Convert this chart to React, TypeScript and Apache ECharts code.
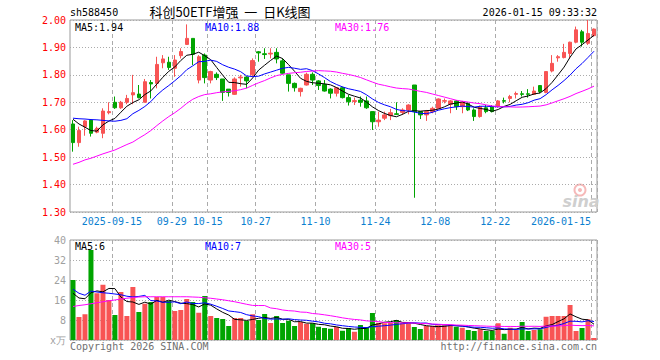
import React, { useEffect, useRef } from "react";
import * as echarts from "echarts";

const dates = [
  "2025-09-04", "2025-09-05", "2025-09-08", "2025-09-09", "2025-09-10", "2025-09-11", "2025-09-12",
  "2025-09-15", "2025-09-16", "2025-09-17", "2025-09-18", "2025-09-19",
  "2025-09-22", "2025-09-23", "2025-09-24", "2025-09-25", "2025-09-26",
  "2025-09-29", "2025-09-30", "2025-10-09", "2025-10-10",
  "2025-10-13", "2025-10-14", "2025-10-15", "2025-10-16", "2025-10-17",
  "2025-10-20", "2025-10-21", "2025-10-22", "2025-10-23", "2025-10-24",
  "2025-10-27", "2025-10-28", "2025-10-29", "2025-10-30", "2025-10-31",
  "2025-11-03", "2025-11-04", "2025-11-05", "2025-11-06", "2025-11-07",
  "2025-11-10", "2025-11-11", "2025-11-12", "2025-11-13", "2025-11-14",
  "2025-11-17", "2025-11-18", "2025-11-19", "2025-11-20", "2025-11-21",
  "2025-11-24", "2025-11-25", "2025-11-26", "2025-11-27", "2025-11-28",
  "2025-12-01", "2025-12-02", "2025-12-03", "2025-12-04", "2025-12-05",
  "2025-12-08", "2025-12-09", "2025-12-10", "2025-12-11", "2025-12-12",
  "2025-12-15", "2025-12-16", "2025-12-17", "2025-12-18", "2025-12-19",
  "2025-12-22", "2025-12-23", "2025-12-24", "2025-12-25", "2025-12-26",
  "2025-12-29", "2025-12-30", "2025-12-31",
  "2026-01-05", "2026-01-06", "2026-01-07", "2026-01-08", "2026-01-09",
  "2026-01-12", "2026-01-13", "2026-01-14", "2026-01-15",
];

const opens = [
  1.621, 1.553, 1.611, 1.635, 1.591, 1.587, 1.662, 1.700, 1.680, 1.700,
  1.727, 1.730, 1.700, 1.772, 1.769, 1.844, 1.846, 1.824, 1.870, 1.911,
  1.933, 1.781, 1.872, 1.781, 1.802, 1.785, 1.748, 1.729, 1.789, 1.792,
  1.800, 1.884, 1.877, 1.876, 1.882, 1.851, 1.800, 1.769, 1.739, 1.763,
  1.802, 1.778, 1.765, 1.748, 1.733, 1.753, 1.717, 1.703, 1.708, 1.705,
  1.666, 1.629, 1.642, 1.651, 1.658, 1.663, 1.672, 1.763, 1.666, 1.654,
  1.666, 1.678, 1.704, 1.693, 1.705, 1.684, 1.696, 1.672, 1.648, 1.680,
  1.684, 1.684, 1.706, 1.714, 1.729, 1.731, 1.731, 1.729, 1.761, 1.736,
  1.814, 1.862, 1.863, 1.878, 1.919, 1.957, 1.915, 1.943,
];
const closes = [
  1.553, 1.597, 1.632, 1.587, 1.605, 1.668, 1.666, 1.680, 1.700, 1.714,
  1.735, 1.717, 1.775, 1.767, 1.838, 1.858, 1.827, 1.854, 1.885, 1.933,
  1.875, 1.866, 1.790, 1.812, 1.790, 1.736, 1.736, 1.785, 1.792, 1.778,
  1.852, 1.880, 1.874, 1.879, 1.858, 1.806, 1.769, 1.753, 1.751, 1.802,
  1.781, 1.761, 1.741, 1.733, 1.753, 1.717, 1.702, 1.706, 1.700, 1.680,
  1.629, 1.635, 1.654, 1.662, 1.656, 1.672, 1.690, 1.666, 1.654, 1.666,
  1.678, 1.712, 1.706, 1.705, 1.684, 1.700, 1.672, 1.648, 1.684, 1.666,
  1.666, 1.705, 1.704, 1.721, 1.732, 1.729, 1.729, 1.741, 1.739, 1.812,
  1.842, 1.866, 1.882, 1.919, 1.964, 1.919, 1.951, 1.967,
];
const lows = [
  1.520, 1.538, 1.578, 1.575, 1.587, 1.569, 1.656, 1.676, 1.676, 1.693,
  1.693, 1.714, 1.700, 1.714, 1.751, 1.824, 1.818, 1.793, 1.860, 1.909,
  1.836, 1.769, 1.769, 1.769, 1.781, 1.705, 1.721, 1.727, 1.757, 1.751,
  1.793, 1.848, 1.858, 1.860, 1.842, 1.802, 1.739, 1.739, 1.721, 1.761,
  1.763, 1.745, 1.739, 1.714, 1.721, 1.714, 1.688, 1.690, 1.684, 1.676,
  1.599, 1.611, 1.635, 1.635, 1.654, 1.654, 1.656, 1.352, 1.639, 1.632,
  1.660, 1.676, 1.696, 1.660, 1.672, 1.660, 1.668, 1.632, 1.644, 1.660,
  1.663, 1.680, 1.696, 1.700, 1.714, 1.721, 1.717, 1.727, 1.733, 1.733,
  1.809, 1.848, 1.860, 1.860, 1.915, 1.903, 1.909, 1.940,
];
const highs = [
  1.635, 1.611, 1.635, 1.638, 1.611, 1.678, 1.700, 1.721, 1.705, 1.727,
  1.800, 1.763, 1.785, 1.781, 1.866, 1.872, 1.866, 1.872, 1.897, 1.984,
  1.933, 1.872, 1.878, 1.815, 1.809, 1.785, 1.748, 1.791, 1.800, 1.795,
  1.860, 1.887, 1.897, 1.897, 1.897, 1.860, 1.800, 1.772, 1.753, 1.808,
  1.809, 1.781, 1.781, 1.751, 1.755, 1.757, 1.727, 1.717, 1.721, 1.721,
  1.666, 1.666, 1.666, 1.676, 1.700, 1.678, 1.693, 1.763, 1.668, 1.672,
  1.684, 1.714, 1.714, 1.708, 1.708, 1.705, 1.700, 1.678, 1.688, 1.690,
  1.690, 1.708, 1.717, 1.727, 1.739, 1.741, 1.748, 1.757, 1.763, 1.812,
  1.872, 1.872, 1.913, 1.921, 1.976, 1.964, 2.000, 1.969,
];

const volumes = [
  24.0, 9.2, 10.3, 36.0, 18.7, 22.1, 16.0, 10.0, 19.2, 9.6,
  21.2, 11.2, 14.5, 15.2, 17.2, 17.2, 15.6, 11.6, 12.0, 16.4,
  15.2, 10.9, 17.6, 9.6, 8.8, 8.4, 5.6, 8.8, 8.8, 7.6,
  10.3, 8.0, 10.4, 6.8, 9.6, 6.8, 7.7, 5.6, 7.2, 6.5,
  6.7, 5.3, 4.8, 4.5, 5.2, 3.7, 4.8, 3.3, 6.0, 5.2,
  10.8, 6.9, 6.7, 6.9, 8.0, 6.7, 6.7, 5.2, 4.4, 5.6,
  5.6, 5.9, 5.9, 5.9, 5.3, 4.9, 4.0, 3.6, 4.3, 3.6,
  3.7, 6.7, 2.5, 4.9, 4.0, 7.2, 3.6, 4.0, 4.3, 9.3,
  9.6, 9.6, 9.6, 14.0, 3.6, 4.8, 8.3, 0.8,
];

// Moving-average values at the start of the view (their windows begin before the first visible day)
const ma5Head = [1.638, 1.621, 1.609, 1.597];
const ma10Head = [1.642, 1.640, 1.639, 1.637, 1.636, 1.634, 1.632, 1.631, 1.634];
const ma30Head = [
  1.474, 1.481, 1.490, 1.496, 1.504, 1.512, 1.519, 1.526, 1.536, 1.546,
  1.555, 1.569, 1.582, 1.597, 1.615, 1.632, 1.648, 1.662, 1.678, 1.696,
  1.711, 1.721, 1.728, 1.731, 1.735, 1.738, 1.740, 1.742, 1.746,
];
const volMa5Head = [18.7, 16.8, 16.5, 18.9];
const volMa10Head = [20.3, 18.7, 17.9, 19.6, 19.2, 18.9, 18.7, 18.4, 18.1];
const volMa30Head = [
  13.4, 13.8, 14.1, 14.5, 14.9, 15.3, 15.7, 16.0, 16.4, 16.7,
  17.0, 17.2, 17.3, 17.3, 17.3, 17.3, 17.3, 17.3, 17.3, 17.3,
  17.2, 17.1, 16.9, 16.7, 16.4, 16.1, 15.7, 15.3, 14.8,
];

const tickDates = [
  "2025-09-15", "2025-09-29", "2025-10-15", "2025-10-27", "2025-11-10",
  "2025-11-24", "2025-12-08", "2025-12-22", "2026-01-15",
];
const tickLabels = [
  "2025-09-15", "09-29", "10-15", "10-27", "11-10",
  "11-24", "12-08", "12-22", "2026-01-15",
];

const priceTicks = { min: 1.3, max: 2.0, interval: 0.1 };
const volTicks = { min: 0, max: 40, interval: 8 };

const priceMaLabels = ["MA5:1.94", "MA10:1.88", "MA30:1.76"];
const volMaLabels = ["MA5:6", "MA10:7", "MA30:5"];

const symbolCode = "sh588450";
const titleText = "科创50ETF增强  一  日K线图";
const timestamp = "2026-01-15 09:33:32";

const RED = "#f85454";
const GREEN = "#00a400";
const MONO = '"DejaVu Sans Mono", "Liberation Mono", monospace';
const GRID_COLOR = "#ababab";

function movingAverage(values: number[], win: number, head: number[]): number[] {
  return values.map((_, i) => {
    if (i < win - 1) return head[i];
    let s = 0;
    for (let k = i - win + 1; k <= i; k++) s += values[k];
    return +(s / win).toFixed(4);
  });
}

export default function App() {
  const ref = useRef<HTMLDivElement>(null);

  useEffect(() => {
    if (!ref.current) return;
    const chart = echarts.init(ref.current, null, { renderer: "svg" });

    const tickIndex = new Set(tickDates.map((d) => dates.indexOf(d)));
    const labelByDate: Record<string, string> = {};
    tickDates.forEach((d, i) => (labelByDate[d] = tickLabels[i]));
    const lastDate = dates[dates.length - 1];

    const candleData = dates.map((_, i) => [opens[i], closes[i], lows[i], highs[i]]);
    const volData = volumes.map((v, i) => ({
      value: v,
      itemStyle: { color: closes[i] >= opens[i] ? RED : GREEN },
    }));

    const ma5 = movingAverage(closes, 5, ma5Head);
    const ma10 = movingAverage(closes, 10, ma10Head);
    const ma30 = movingAverage(closes, 30, ma30Head);
    const vma5 = movingAverage(volumes, 5, volMa5Head);
    const vma10 = movingAverage(volumes, 10, volMa10Head);
    const vma30 = movingAverage(volumes, 30, volMa30Head);

    const lineS = (data: number[], color: string, xi: number) => ({
      type: "line",
      xAxisIndex: xi,
      yAxisIndex: xi,
      data,
      symbol: "none",
      silent: true,
      lineStyle: { color, width: 1 },
      z: 3,
    });

    const vSplit = {
      show: true,
      interval: (index: number) => tickIndex.has(index),
      lineStyle: { color: GRID_COLOR, width: 1, type: [4, 3] },
    };
    const hSplit = {
      show: true,
      lineStyle: { color: GRID_COLOR, width: 1, type: [1, 2] },
    };

    const textEl = (text: string, x: number, y: number, fill: string, align = "left", font = `10px ${MONO}`) => ({
      type: "text",
      x,
      y,
      silent: true,
      z: 10,
      style: { text, fill, font, align, verticalAlign: "middle" },
    });

    chart.setOption({
      animation: false,
      backgroundColor: "#ffffff",
      grid: [
        { left: 70, top: 20, width: 527, height: 192, show: true, borderColor: "#9a9a9a", borderWidth: 1, backgroundColor: "transparent" },
        { left: 70, top: 240, width: 527, height: 100, show: true, borderColor: "#9a9a9a", borderWidth: 1, backgroundColor: "transparent" },
      ],
      xAxis: [
        {
          type: "category",
          gridIndex: 0,
          data: dates,
          boundaryGap: true,
          axisLine: { show: false },
          axisTick: { show: false },
          splitLine: vSplit,
          axisLabel: {
            show: true,
            interval: (index: number) => tickIndex.has(index),
            margin: 4,
            formatter: (value: string) => {
              const t = labelByDate[value] ?? "";
              if (!t) return "";
              return value === lastDate ? `{e|${t}}` : `{n|${t}}`;
            },
            rich: {
              n: { color: "#0b7fd0", fontSize: 10, fontFamily: MONO, padding: [0, 6, 0, 0] },
              e: { color: "#0b7fd0", fontSize: 10, fontFamily: MONO, padding: [0, 66, 0, 0] },
            },
          },
        },
        {
          type: "category",
          gridIndex: 1,
          data: dates,
          boundaryGap: true,
          axisLine: { show: false },
          axisTick: { show: false },
          axisLabel: { show: false },
          splitLine: vSplit,
        },
      ],
      yAxis: [
        {
          type: "value",
          gridIndex: 0,
          min: priceTicks.min,
          max: priceTicks.max,
          interval: priceTicks.interval,
          axisLine: { show: false },
          axisTick: { show: false },
          splitLine: hSplit,
          axisLabel: {
            margin: 4,
            color: "#ff0000",
            fontSize: 10,
            fontFamily: MONO,
            formatter: (v: number) => v.toFixed(2),
          },
        },
        {
          type: "value",
          gridIndex: 1,
          min: volTicks.min,
          max: volTicks.max,
          interval: volTicks.interval,
          axisLine: { show: false },
          axisTick: { show: false },
          splitLine: hSplit,
          axisLabel: {
            margin: 4,
            color: "#a0a0a0",
            fontSize: 10,
            fontFamily: MONO,
            formatter: (v: number) => (v === 0 ? "x万" : String(v)),
          },
        },
      ],
      series: [
        {
          type: "candlestick",
          xAxisIndex: 0,
          yAxisIndex: 0,
          data: candleData,
          barWidth: 4,
          silent: true,
          itemStyle: {
            color: RED,
            color0: GREEN,
            borderColor: RED,
            borderColor0: GREEN,
            borderWidth: 1,
          },
          z: 2,
        },
        lineS(ma5, "#000000", 0),
        lineS(ma10, "#0000ff", 0),
        lineS(ma30, "#ff00ff", 0),
        {
          type: "bar",
          xAxisIndex: 1,
          yAxisIndex: 1,
          data: volData,
          barWidth: 5,
          silent: true,
          z: 2,
        },
        lineS(vma5, "#000000", 1),
        lineS(vma10, "#0000ff", 1),
        lineS(vma30, "#ff00ff", 1),
      ],
      graphic: [
        { type: "ring", silent: true, z: 0, shape: { cx: 580, cy: 190, r: 6.5, r0: 4.5 }, style: { fill: "#f6b9b9" } },
        { type: "circle", silent: true, z: 0, shape: { cx: 580, cy: 190, r: 2 }, style: { fill: "#f6b9b9" } },
        textEl("sina", 581, 201, "#cfcfcf", "center", 'italic bold 16px "DejaVu Sans", sans-serif'),
        textEl(symbolCode, 70, 12, "#000000"),
        textEl(titleText, 230, 11, "#000000", "center", '13px "Noto Sans CJK SC", sans-serif'),
        textEl(timestamp, 597, 12, "#000000", "right"),
        textEl(priceMaLabels[0], 75, 27, "#000000"),
        textEl(priceMaLabels[1], 205, 27, "#0000ff"),
        textEl(priceMaLabels[2], 335, 27, "#ff00ff"),
        textEl(volMaLabels[0], 75, 246, "#000000"),
        textEl(volMaLabels[1], 205, 246, "#0000ff"),
        textEl(volMaLabels[2], 335, 246, "#ff00ff"),
        textEl("Copyright 2026 SINA.COM", 70, 346, "#707070"),
        textEl("http://finance.sina.com.cn", 597, 346, "#707070", "right"),
      ],
    });

    return () => chart.dispose();
  }, []);

  return (
    <div
      ref={ref}
      style={{ position: "fixed", left: 0, top: 0, width: 660, height: 360, background: "#fff" }}
    />
  );
}
